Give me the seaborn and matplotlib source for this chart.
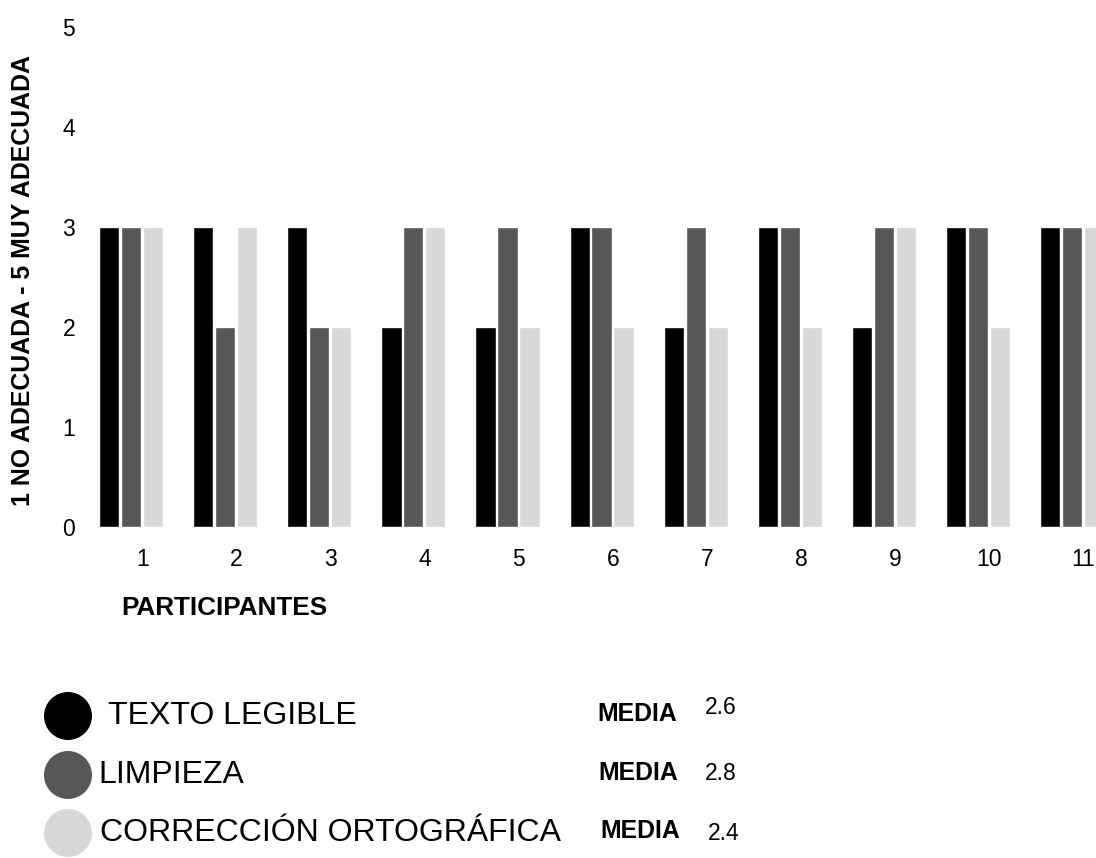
import numpy as np
import pandas as pd
import matplotlib
matplotlib.use("Agg")
import matplotlib.pyplot as plt
from matplotlib.patches import Ellipse
import seaborn as sns

# Scores per participant (scale 1 = no adecuada ... 5 = muy adecuada)
participantes = ["1", "2", "3", "4", "5", "6", "7", "8", "9", "10", "11"]
texto_legible = [3, 3, 3, 2, 2, 3, 2, 3, 2, 3, 3]
limpieza = [3, 2, 2, 3, 3, 3, 3, 3, 3, 3, 3]
correccion = [3, 3, 2, 3, 2, 2, 2, 2, 3, 2, 3]

criterios = ["TEXTO LEGIBLE", "LIMPIEZA", "CORRECCIÓN ORTOGRÁFICA"]
medias = ["2.6", "2.8", "2.4"]
colores = ["#000000", "#575757", "#d8d8d8"]

df = pd.DataFrame({
    "participante": participantes * 3,
    "valor": texto_legible + limpieza + correccion,
    "criterio": np.repeat(criterios, len(participantes)),
})

sns.set_theme(style="white")
plt.rcParams["font.family"] = ["Liberation Sans", "DejaVu Sans"]
plt.rcParams["text.color"] = "black"
plt.rcParams["xtick.color"] = "black"
plt.rcParams["ytick.color"] = "black"

W, H = 1096, 858
fig = plt.figure(figsize=(W / 100, H / 100), dpi=100)
ax = fig.add_axes([85 / W, (H - 527) / H, (W - 85) / W, 500 / H])

sns.barplot(data=df, x="participante", y="valor", hue="criterio",
            palette=colores, width=0.7, gap=0.08, saturation=1,
            legend=False, ax=ax)

ax.set_ylim(0, 5)
ax.set_xlim(-0.49, 10.255)
ax.set_yticks(range(6))
ax.set_xticks(np.arange(len(participantes)) + 0.12, participantes)
ax.tick_params(axis="x", length=0, pad=15, labelsize=16.5)
ax.tick_params(axis="y", length=0, pad=7, labelsize=16.5)
for s in ax.spines.values():
    s.set_visible(False)
ax.set_xlabel("")
ax.set_ylabel("")

fig.text(23 / W, (H - 280) / H, "1 NO ADECUADA - 5 MUY ADECUADA",
         rotation=90, ha="center", va="center", fontsize=17.9,
         fontweight="bold")
fig.text(121 / W, (H - 608) / H, "PARTICIPANTES", ha="left", va="center",
         fontsize=18.8, fontweight="bold")

# Custom legend with mean values
ys = [716, 775, 833]
text_x = [108, 98, 100]
media_x = [597, 598, 600]
val_x = [705, 705, 708]
val_dy = [-8, -2, 0]
for nombre, media, col, y, tx, mx, vx, dy in zip(criterios, medias, colores,
                                                ys, text_x, media_x, val_x, val_dy):
    fig.add_artist(Ellipse((68 / W, (H - y) / H), 48 / W, 48 / H,
                           transform=fig.transFigure, facecolor=col,
                           edgecolor="none"))
    fig.text(tx / W, (H - y) / H, nombre, ha="left", va="center", fontsize=23)
    fig.text(mx / W, (H - y + 2) / H, "MEDIA", ha="left", va="center",
             fontsize=17.8, fontweight="bold")
    fig.text(vx / W, (H - y - dy) / H, media, ha="left", va="center",
             fontsize=16.5)

fig.savefig("out.png", dpi=100)
